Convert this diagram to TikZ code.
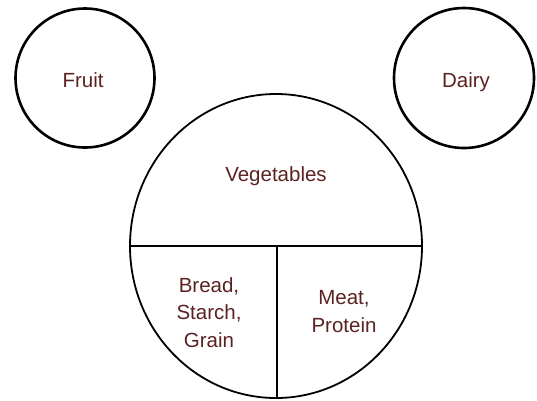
\documentclass[tikz,border=0pt]{standalone}
\usepackage{fontspec}
\setmainfont{Liberation Sans}
\definecolor{txt}{RGB}{92,34,34}
\begin{document}
\begin{tikzpicture}[x=1pt,y=-1pt,
  lbl/.style={text=txt,font=\fontsize{20.5}{27.5}\selectfont,align=center,inner sep=0pt},
  ring/.style={draw=black,line width=2.6pt},
  part/.style={draw=black,line width=1.8pt}]
\useasboundingbox (0,0) rectangle (537,400);
\draw[ring] (85,78) circle [radius=69.5];
\draw[ring] (464,78) circle [radius=70];
\draw[part] (276,246) ellipse [x radius=146, y radius=152];
\coordinate (hl) at (130,246);
\coordinate (hr) at (422,246);
\coordinate (vt) at (277,246);
\coordinate (vb) at (277,398);
\draw[part] (hl) -- (hr);
\draw[part] (vt) -- (vb);
\node[lbl] (fruit) at (83,80) {Fruit};
\node[lbl] (dairy) at (466,82) {Dairy};
\node[lbl] (veg) at (276,176) {Vegetables};
\node[lbl] (bread) at (209,312.5) {Bread,\\Starch,\\Grain};
\node[lbl] (meat) at (344,311.5) {Meat,\\Protein};
\end{tikzpicture}
\end{document}
